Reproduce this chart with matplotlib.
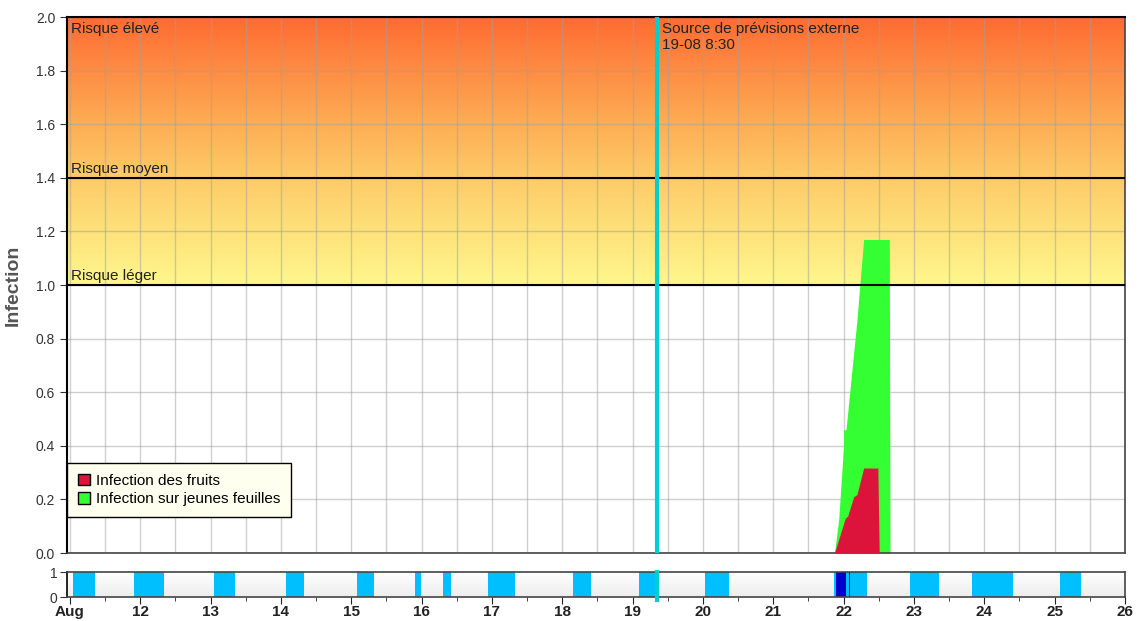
import matplotlib.pyplot as plt
import numpy as np
from matplotlib.colors import LinearSegmentedColormap
from matplotlib.patches import Patch

plt.rcParams['font.family'] = ['Liberation Sans', 'DejaVu Sans']

# days of August
x_min, x_max = 10.96, 26.0
forecast_time = 19.354  # 19-08 8:30

day_ticks = list(range(11, 27))
day_labels = ['Aug'] + [str(d) for d in range(12, 27)]

# infection curves (day, value)
leaf_t = [21.87, 21.93, 22.00, 22.00, 22.034, 22.095, 22.19, 22.237, 22.285, 22.65, 22.66]
leaf_v = [0.0, 0.124, 0.40, 0.46, 0.46, 0.62, 0.87, 1.02, 1.17, 1.17, 0.0]
fruit_t = [21.87, 22.024, 22.057, 22.143, 22.19, 22.285, 22.487, 22.506]
fruit_v = [0.0, 0.13, 0.137, 0.21, 0.218, 0.317, 0.317, 0.0]

# risk levels
risk_levels = [1.0, 1.4, 2.0]
risk_names = ['Risque léger', 'Risque moyen', 'Risque élevé']

# leaf wetness periods
wet_start = [11.05, 11.905, 13.05, 14.07, 15.08, 15.90, 16.31, 16.95, 18.16, 19.09,
             20.03, 21.86, 22.95, 23.82, 25.07]
wet_end = [11.36, 12.34, 13.35, 14.33, 15.32, 15.99, 16.42, 17.33, 18.41, 19.33,
           20.37, 22.33, 23.36, 24.41, 25.37]
rain_start = [21.89, 22.07]
rain_end = [22.04, 22.09]

fig = plt.figure(figsize=(11.4, 6.21), dpi=100)
ax = fig.add_axes([0.0588, 0.1095, 0.9280, 0.8631])
ax2 = fig.add_axes([0.0588, 0.0386, 0.9280, 0.0403])

# gradient background above 1.0
cmap = LinearSegmentedColormap.from_list('risk', [(0.0, '#FFF78C'), (0.4, '#FDCB68'),
                                                  (0.6, '#FDAE55'), (1.0, '#FF6B32')])
grad = np.linspace(0, 1, 256).reshape(-1, 1)
ax.imshow(grad, extent=[x_min, x_max, 1.0, 2.0], origin='lower', aspect='auto',
          cmap=cmap, zorder=0)

ax.fill_between(leaf_t, leaf_v, color='#33FF33', lw=0, zorder=2)
ax.fill_between(fruit_t, fruit_v, color='#DC143C', lw=0, zorder=3)

for lvl, name in zip(risk_levels, risk_names):
    ax.axhline(lvl, color='black', lw=1.5, zorder=4)
    if lvl < 2.0:
        ax.text(x_min + 0.05, lvl + 0.008, name, fontsize=11, color='#222222',
                va='bottom', ha='left', zorder=5)
    else:
        ax.text(x_min + 0.05, lvl - 0.017, name, fontsize=11, color='#222222',
                va='top', ha='left', zorder=5)

ax.axvline(forecast_time, color='#00CED1', lw=3, zorder=6)
ax.text(forecast_time + 0.06, 1.983, 'Source de prévisions externe\n19-08 8:30',
        fontsize=11, color='#222222', va='top', ha='left', linespacing=1.25, zorder=7)

ax.set_xlim(x_min, x_max)
ax.set_ylim(0, 2.0)
ax.set_xticks(np.arange(11, 26.01, 0.5))
ax.tick_params(axis='x', length=0, labelbottom=False)
ax.set_yticks(np.arange(0, 2.01, 0.2))
ax.set_yticklabels(['%.1f' % v for v in np.arange(0, 2.01, 0.2)])
ax.tick_params(axis='y', labelsize=10, length=5, direction='out', colors='#333333')
ax.grid(True, color='#a0a0a0', alpha=0.5, lw=1)
ax.set_axisbelow(True)
ax.set_ylabel('Infection', fontsize=14, fontweight='bold', color='#555555', labelpad=10)
ax.spines['left'].set_color('black')
ax.spines['left'].set_linewidth(1.5)
for s in ['bottom', 'right']:
    ax.spines[s].set_color('#444444')
    ax.spines[s].set_linewidth(1.2)
ax.spines['top'].set_color('black')
ax.spines['top'].set_linewidth(1.5)

handles = [Patch(facecolor='#DC143C', edgecolor='black', label='Infection des fruits'),
           Patch(facecolor='#33FF33', edgecolor='black', label='Infection sur jeunes feuilles')]
leg = ax.legend(handles=handles, loc='lower left', bbox_to_anchor=(0.0, 0.067),
                borderaxespad=0, fancybox=False, framealpha=1, fontsize=11,
                handlelength=0.8, handleheight=0.8, handletextpad=0.4,
                borderpad=0.7, labelspacing=0.3)
leg.get_frame().set_facecolor('#FFFFF0')
leg.get_frame().set_edgecolor('black')
leg.get_frame().set_linewidth(1.0)
leg.set_zorder(8)

# wetness strip
bg = np.linspace(0, 1, 64).reshape(-1, 1)
ax2.imshow(bg, extent=[x_min, x_max, 0, 1], origin='lower', aspect='auto',
           cmap=LinearSegmentedColormap.from_list('g', ['#EDEDED', '#FFFFFF']), zorder=0)
for s, e in zip(wet_start, wet_end):
    ax2.axvspan(s, e, color='#00BFFF', lw=0, zorder=1)
for s, e in zip(rain_start, rain_end):
    ax2.axvspan(s, e, color='#0000CD', lw=0, zorder=2)
ax2.axvline(forecast_time, color='#00CED1', lw=3, zorder=3, clip_on=False, ymin=-0.1)
ax2.set_xlim(x_min, x_max)
ax2.set_ylim(0, 1)
ax2.set_yticks([0, 1])
ax2.set_xticks(day_ticks)
ax2.set_xticklabels(day_labels, fontweight='bold', fontsize=11)
ax2.set_xticks(np.arange(11.5, 26, 1), minor=True)
ax2.tick_params(axis='x', which='major', length=5, colors='#222222', pad=1)
ax2.tick_params(axis='x', which='minor', length=3, colors='#222222')
ax2.tick_params(axis='y', labelsize=10, length=5, colors='#333333', pad=2)
for s in ax2.spines.values():
    s.set_color('#444444')
    s.set_linewidth(1.2)
ax2.spines['left'].set_color('black')

fig.savefig('out.png', dpi=100)
